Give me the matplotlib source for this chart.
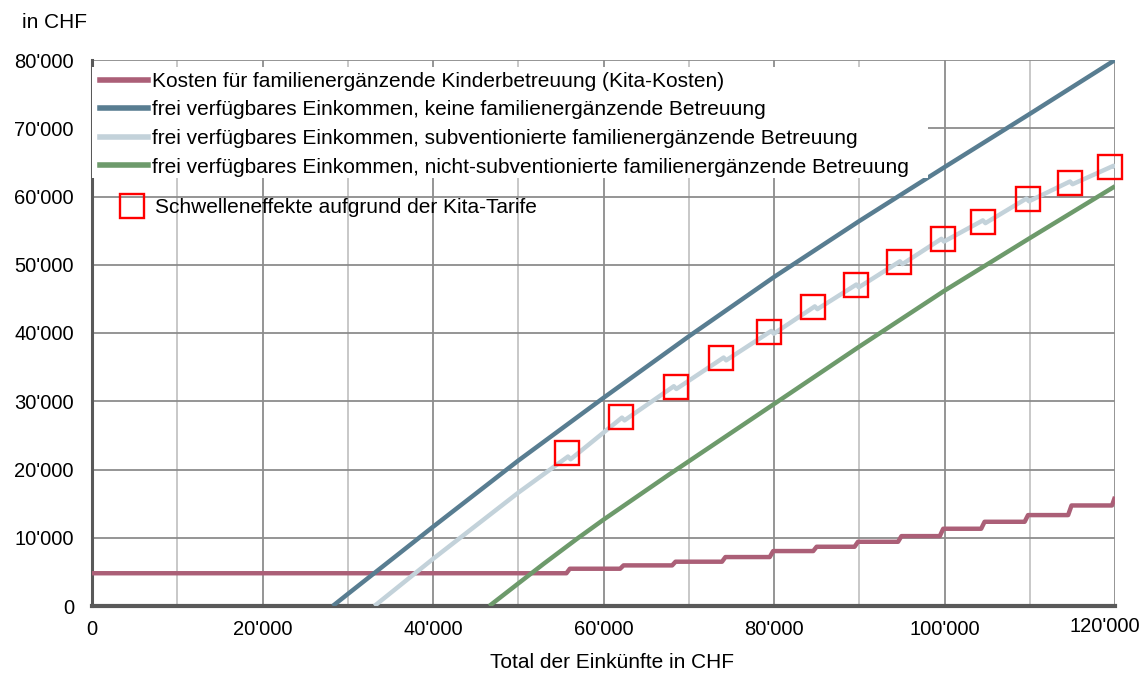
import matplotlib
matplotlib.use("Agg")
import matplotlib.pyplot as plt
import matplotlib.transforms as mtransforms
from matplotlib.lines import Line2D
from matplotlib.patches import Rectangle

plt.rcParams['font.family'] = ['Liberation Sans', 'DejaVu Sans']

# ---------------- data ----------------
x_ticks = [0, 20000, 40000, 60000, 80000, 100000, 120000]
x_tick_labels = ["0", "20'000", "40'000", "60'000", "80'000", "100'000", "120'000"]
y_ticks = [0, 10000, 20000, 30000, 40000, 50000, 60000, 70000, 80000]
y_tick_labels = ["0", "10'000", "20'000", "30'000", "40'000", "50'000", "60'000", "70'000", "80'000"]

# Kita-Kosten (step function)
cost_x = [0, 55650, 56050, 61950, 62350, 68050, 68450, 73900, 74300, 79500, 79900,
          84600, 85000, 89450, 89850, 94550, 94950, 99450, 99850, 104300, 104700,
          109400, 109800, 114500, 114900, 119650, 120000]
cost_y = [4800, 4800, 5460, 5460, 5950, 5950, 6490, 6490, 7170, 7170, 8050,
          8050, 8680, 8680, 9410, 9410, 10240, 10240, 11320, 11320, 12340,
          12340, 13320, 13320, 14730, 14730, 16000]

# frei verfügbares Einkommen, keine Betreuung
blue_x = [28240, 30000, 40000, 50000, 60000, 70000, 80000, 90000, 100000, 110000, 120000]
blue_y = [0, 1750, 11600, 21300, 30500, 39500, 48200, 56400, 64300, 72100, 80000]

# frei verfügbares Einkommen, subventionierte Betreuung
sub_x = [33125, 40000, 50000, 55840, 56140, 62165, 62465, 68250, 68550, 74090, 74390,
         79680, 79980, 84790, 85090, 89660, 89960, 94770, 95070, 99640, 99940,
         104500, 104800, 109610, 109910, 114720, 115020, 119830, 120000]
sub_y = [0, 6900, 16600, 21900, 21500, 27600, 27200, 32200, 31800, 36400, 36000,
         40300, 39900, 43900, 43500, 47100, 46700, 50500, 50100, 53800, 53400,
         56500, 56100, 59700, 59300, 62200, 61800, 64500, 64200]

# frei verfügbares Einkommen, nicht-subventionierte Betreuung
green_x = [46600, 50000, 53000, 56950, 60000, 67700, 70000, 80700, 90000, 100000, 110000, 120000]
green_y = [0, 3300, 6200, 9900, 12650, 19270, 21200, 30180, 38000, 46200, 53900, 61500]

# Schwelleneffekte
thr_x = [55750, 62000, 68500, 73820, 79410, 84610, 89620, 94660, 99820, 104520,
         109830, 114760, 119410]
thr_y = [22370, 27650, 32040, 36290, 40190, 43850, 47030, 50450, 53730, 56310,
         59590, 61930, 64370]

labels = ["Kosten für familienergänzende Kinderbetreuung (Kita-Kosten)",
          "frei verfügbares Einkommen, keine familienergänzende Betreuung",
          "frei verfügbares Einkommen, subventionierte familienergänzende Betreuung",
          "frei verfügbares Einkommen, nicht-subventionierte familienergänzende Betreuung"]
thr_label = "Schwelleneffekte aufgrund der Kita-Tarife"

c_cost = '#ab5f77'
c_blue = '#587d91'
c_sub = '#c3d2da'
c_green = '#6d9a6b'

# ---------------- figure ----------------
fig = plt.figure(figsize=(11.44, 6.75), dpi=100)
ax = fig.add_axes([92 / 1144, 69 / 675, 1023 / 1144, 546 / 675])
ax.set_xlim(0, 120000)
ax.set_ylim(0, 80000)

# grid
for xv in range(0, 120001, 10000):
    col = '#8c8c8c' if xv % 20000 == 0 else '#c4c4c4'
    ax.axvline(xv, color=col, lw=1.3, zorder=1)
for yv in y_ticks:
    ax.axhline(yv, color='#8c8c8c', lw=1.3, zorder=1)

lw = 3.2
ax.plot(cost_x, cost_y, color=c_cost, lw=lw, zorder=3, solid_capstyle='butt')
ax.plot(blue_x, blue_y, color=c_blue, lw=lw, zorder=3, solid_capstyle='butt')
ax.plot(sub_x, sub_y, color=c_sub, lw=lw, zorder=3, solid_capstyle='butt')
ax.plot(green_x, green_y, color=c_green, lw=lw, zorder=3, solid_capstyle='butt')
ax.plot(thr_x, thr_y, ls='none', marker='s', ms=17, mfc='none', mec='#ff0000',
        mew=1.7, zorder=4, clip_on=False)

# spines
for s in ['top', 'right']:
    ax.spines[s].set_visible(False)
ax.spines['left'].set_color('#595959')
ax.spines['left'].set_linewidth(2.2)
ax.spines['bottom'].set_color('#595959')
ax.spines['bottom'].set_linewidth(3.0)
ax.spines['left'].set_zorder(2)

ax.set_xticks(x_ticks)
ax.set_xticklabels(x_tick_labels)
ax.set_yticks(y_ticks)
ax.set_yticklabels(y_tick_labels)
ax.tick_params(axis='both', length=0, labelsize=14.5, labelcolor='black')
ax.tick_params(axis='y', pad=13)
ax.tick_params(axis='x', pad=10)

# keep the last x tick label inside the figure (as in the reference)
last = ax.get_xticklabels()[-1]
last.set_transform(last.get_transform() +
                   mtransforms.ScaledTranslation(-10 / 100, 3 / 100, fig.dpi_scale_trans))

ax.set_xlabel("Total der Einkünfte in CHF", fontsize=15)
ax.xaxis.label.set_va('center')
ax.xaxis.set_label_coords((612 - 92) / 1023, -(663 - 606) / 546)
fig.text(22 / 1144, 1 - 22 / 675, "in CHF", fontsize=15, ha='left', va='center')

# white legend background
ax.add_patch(Rectangle((0.0, 0.784), 0.8172, 0.204, transform=ax.transAxes,
                       facecolor='white', edgecolor='none', zorder=5))

lfs = 15
handles = [Line2D([], [], color=c, lw=4) for c in [c_cost, c_blue, c_sub, c_green]]
leg = ax.legend(handles, labels, loc='upper left', bbox_to_anchor=(0.006, 0.982),
                frameon=False, fontsize=lfs, handlelength=2.3, handletextpad=0.2,
                labelspacing=0.46, borderaxespad=0.0, borderpad=0.1)
leg.set_zorder(6)
ax.add_artist(leg)

h2 = [Line2D([], [], ls='none', marker='s', ms=17, mfc='none', mec='#ff0000', mew=1.7)]
leg2 = ax.legend(h2, [thr_label], loc='center left', bbox_to_anchor=(0.026, 0.729),
                 frameon=False, fontsize=lfs, handlelength=1.3, handletextpad=0.45,
                 borderaxespad=0.0, borderpad=0.0)
leg2.set_zorder(6)

fig.savefig("out.png", dpi=100)
